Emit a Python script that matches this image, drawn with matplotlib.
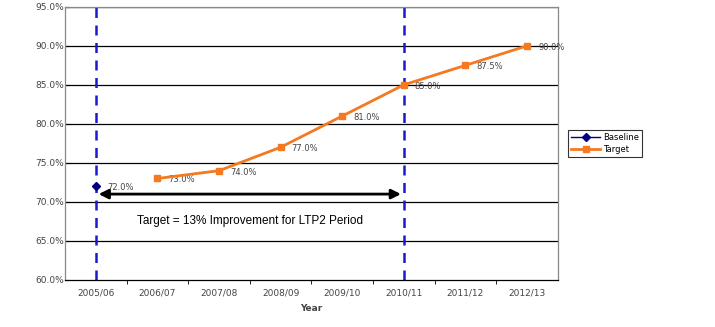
import matplotlib.pyplot as plt

years = ["2005/06", "2006/07", "2007/08", "2008/09", "2009/10", "2010/11", "2011/12", "2012/13"]
baseline_idx = [0]
baseline = [72.0]
target_idx = [1, 2, 3, 4, 5, 6, 7]
target = [73.0, 74.0, 77.0, 81.0, 85.0, 87.5, 90.0]
period_start, period_end = 0, 5
arrow_level = 71.0
note = "Target = 13% Improvement for LTP2 Period"

fig = plt.figure(figsize=(7.15, 3.27), dpi=100)
ax = fig.add_axes([0.091, 0.144, 0.689, 0.835])

navy = "#000080"
orange = "#f47920"
grey_txt = "#444444"

# gridlines
ax.set_ylim(60, 95)
ax.set_xlim(-0.5, len(years) - 0.5)
ax.set_yticks(range(60, 96, 5))
ax.set_yticklabels([f"{v:.1f}%" for v in range(60, 96, 5)])
for v in range(65, 96, 5):
    ax.axhline(v, color="black", lw=0.9, zorder=1)

# dashed period markers
for x in (period_start, period_end):
    ax.axvline(x, color="#1a1acc", lw=1.8, ls=(0, (4, 3)), zorder=2)

ax.plot(baseline_idx, baseline, color=navy, marker="D", ms=4, lw=1, label="Baseline", zorder=4)
ax.plot(target_idx, target, color=orange, marker="s", ms=5, lw=2, label="Target", zorder=4)

for i, v in zip(baseline_idx + target_idx, baseline + target):
    ax.annotate(f"{v:.1f}%", (i, v), xytext=(8, -1), textcoords="offset points",
                fontsize=6, color=grey_txt, va="center", ha="left")

ax.annotate("", xy=(period_start, arrow_level), xytext=(period_end, arrow_level),
            arrowprops=dict(arrowstyle="<|-|>", color="black", lw=2, mutation_scale=14), zorder=5)
ax.text((period_start + period_end) / 2, 67.6, note, fontsize=8.5, ha="center", va="center",
        family="Liberation Sans")

# ticks between categories
ax.set_xticks(range(len(years)))
ax.set_xticklabels(years)
ax.set_xticks([i + 0.5 for i in range(len(years) - 1)], minor=True)
ax.tick_params(axis="x", which="major", length=0, pad=6, labelsize=6.5, labelcolor=grey_txt)
ax.tick_params(axis="x", which="minor", length=3, direction="out", color="black")
ax.tick_params(axis="y", length=3, direction="in", labelsize=6.5, labelcolor=grey_txt, pad=1)
ax.set_xlabel("Year", fontsize=6.5, fontweight="bold", color=grey_txt, labelpad=5)

for s in ax.spines.values():
    s.set_color("#888888")
    s.set_linewidth(0.9)
ax.spines["bottom"].set_color("black")

leg = ax.legend(loc="center left", bbox_to_anchor=(1.012, 0.5), fontsize=6, frameon=True,
                fancybox=False, edgecolor="black", handlelength=3.5, borderpad=0.4,
                labelspacing=0.3, handletextpad=0.3)
leg.get_frame().set_linewidth(0.8)

fig.savefig("out.png", dpi=100)
